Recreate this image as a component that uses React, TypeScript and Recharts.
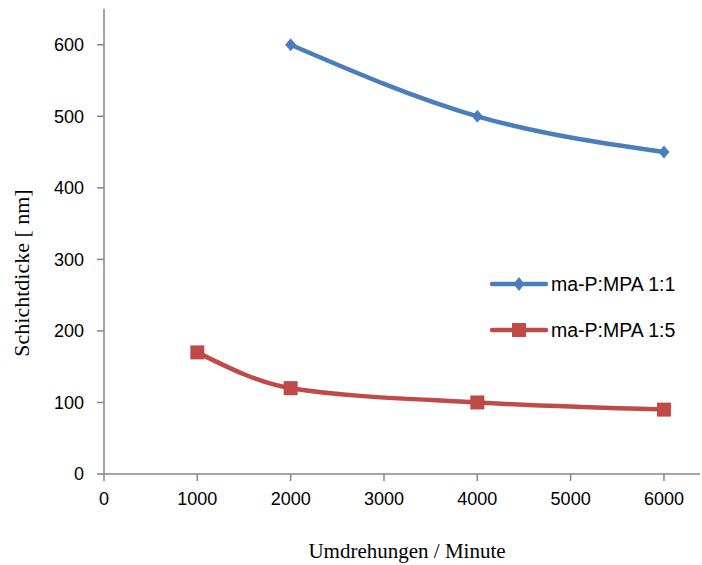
import React from "react";
import { LineChart, Line, XAxis, YAxis } from "recharts";

const seriesNames = ["ma-P:MPA 1:1", "ma-P:MPA 1:5"];
const rpm11 = [2000, 4000, 6000];
const thick11 = [600, 500, 450];
const rpm15 = [1000, 2000, 4000, 6000];
const thick15 = [170, 120, 100, 90];
const xTicks = [0, 1000, 2000, 3000, 4000, 5000, 6000];
const yTicks = [0, 100, 200, 300, 400, 500, 600];

const data11 = rpm11.map((x, i) => ({ x, y: thick11[i] }));
const data15 = rpm15.map((x, i) => ({ x, y: thick15[i] }));

const BLUE = "#4A7EBB";
const RED = "#BE4B48";
const AXIS = "#878787";
const TICKFONT = "'Liberation Sans', Arial, sans-serif";
const SERIF = "'Liberation Serif', 'Times New Roman', serif";

const Diamond = (props: any) => {
  const { cx, cy } = props;
  if (cx == null || cy == null) return null;
  const w = 5.5, h = 6.5;
  return (
    <polygon
      points={`${cx},${cy - h} ${cx + w},${cy} ${cx},${cy + h} ${cx - w},${cy}`}
      fill={BLUE}
    />
  );
};

const Square = (props: any) => {
  const { cx, cy } = props;
  if (cx == null || cy == null) return null;
  const s = 7;
  return <rect x={cx - s} y={cy - s} width={2 * s} height={2 * s} fill={RED} />;
};

const LegendBox = () => (
  <div style={{ position: "absolute", left: 490, top: 261, width: 210, fontFamily: TICKFONT, fontSize: 19.5, color: "#000" }}>
    {[0, 1].map((i) => (
      <div key={i} style={{ display: "flex", alignItems: "center", height: 46 }}>
        <svg width={58} height={20} style={{ marginRight: 3 }}>
          <line x1={2} y1={10} x2={56} y2={10} stroke={i === 0 ? BLUE : RED} strokeWidth={4.5} strokeLinecap="round" />
          {i === 0 ? (
            <polygon points="29,3 34.5,10 29,17 23.5,10" fill={BLUE} />
          ) : (
            <rect x={22} y={3} width={14} height={14} fill={RED} />
          )}
        </svg>
        <span style={{ whiteSpace: "nowrap" }}>{seriesNames[i]}</span>
      </div>
    ))}
  </div>
);

export default function App() {
  return (
    <div style={{ position: "absolute", left: 0, top: 0, width: 702, height: 565, background: "#fff" }}>
      <LineChart width={702} height={565} margin={{ top: 9, right: 2, left: 0, bottom: 0 }}>
        <XAxis
          type="number"
          dataKey="x"
          domain={[0, 6386]}
          ticks={xTicks}
          allowDataOverflow
          height={91}
          stroke={AXIS}
          strokeWidth={1.5}
          tickSize={7}
          tickMargin={11}
          tick={{ fill: "#000", fontSize: 18, fontFamily: TICKFONT }}
          label={(p: any) => (
            <text x={407} y={558} textAnchor="middle" fontFamily={SERIF} fontSize={21} fill="#000">
              Umdrehungen / Minute
            </text>
          )}
        />
        <YAxis
          type="number"
          dataKey="y"
          domain={[0, 650]}
          ticks={yTicks}
          allowDataOverflow
          width={104}
          stroke={AXIS}
          strokeWidth={1.5}
          tickSize={7}
          tickMargin={13}
          tick={{ fill: "#000", fontSize: 18, fontFamily: TICKFONT }}
          label={(p: any) => (
            <text
              x={21}
              y={273}
              textAnchor="middle"
              dominantBaseline="central"
              fontFamily={SERIF}
              fontSize={22}
              fill="#000"
              transform="rotate(-90 21 273)"
            >
              Schichtdicke [ nm]
            </text>
          )}
        />
        <Line
          data={data11}
          dataKey="y"
          name={seriesNames[0]}
          type="monotone"
          stroke={BLUE}
          strokeWidth={4.5}
          dot={<Diamond />}
          activeDot={false}
          isAnimationActive={false}
        />
        <Line
          data={data15}
          dataKey="y"
          name={seriesNames[1]}
          type="monotone"
          stroke={RED}
          strokeWidth={4.5}
          dot={<Square />}
          activeDot={false}
          isAnimationActive={false}
        />
      </LineChart>
      <LegendBox />
    </div>
  );
}
